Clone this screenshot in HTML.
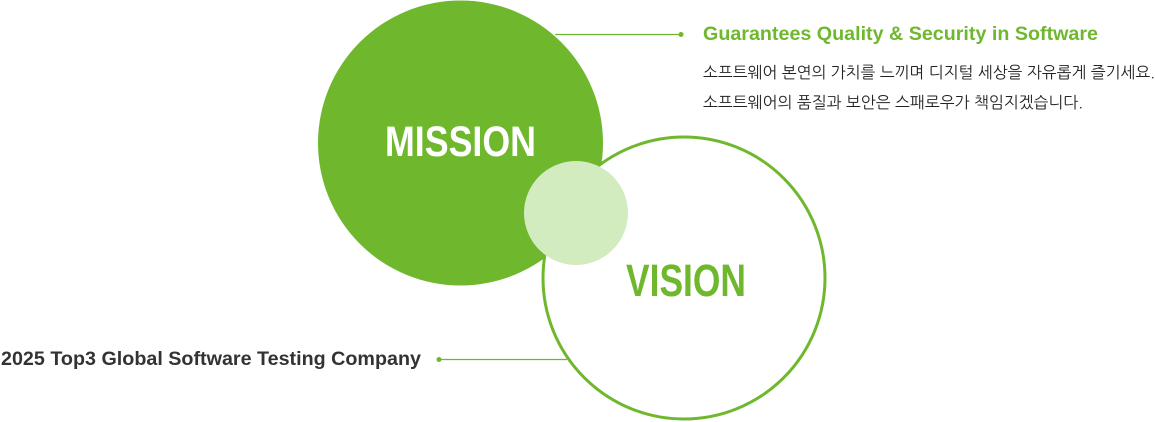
<!DOCTYPE html>
<html><head><meta charset="utf-8"><style>html,body{margin:0;padding:0;background:#fff;}svg{display:block}</style></head>
<body>
<svg width="1155" height="422" xmlns="http://www.w3.org/2000/svg">
<circle cx="460.5" cy="143" r="142.5" fill="#6fb82e"/>
<circle cx="684" cy="278" r="141" fill="#fff" stroke="#6fb82e" stroke-width="3"/>
<circle cx="576" cy="213" r="52" fill="#d3ecbf"/>
<line x1="555" y1="34.5" x2="680" y2="34.5" stroke="#6fb82e" stroke-width="1.2"/>
<circle cx="681" cy="34.5" r="2.5" fill="#6fb82e"/>
<line x1="440" y1="359.5" x2="567" y2="359.5" stroke="#6fb82e" stroke-width="1.2"/>
<circle cx="439" cy="359.5" r="2.5" fill="#6fb82e"/>
<text x="385" y="156" font-family="Liberation Sans, sans-serif" font-weight="bold" font-size="43" fill="#fff" textLength="151" lengthAdjust="spacingAndGlyphs">MISSION</text>
<text x="626" y="296" font-family="Liberation Sans, sans-serif" font-weight="bold" font-size="45" fill="#6fb82e" textLength="120" lengthAdjust="spacingAndGlyphs">VISION</text>
<text x="703" y="40" font-family="Liberation Sans, sans-serif" font-weight="bold" font-size="19" fill="#6fb82e" textLength="395" lengthAdjust="spacingAndGlyphs">Guarantees Quality &amp; Security in Software</text>
<text x="703" y="78" font-family="NanumGothic, Noto Sans CJK KR, sans-serif" font-size="16" fill="#222" textLength="452" lengthAdjust="spacingAndGlyphs">소프트웨어 본연의 가치를 느끼며 디지털 세상을 자유롭게 즐기세요.</text>
<text x="703" y="108" font-family="NanumGothic, Noto Sans CJK KR, sans-serif" font-size="16" fill="#222" textLength="380" lengthAdjust="spacingAndGlyphs">소프트웨어의 품질과 보안은 스패로우가 책임지겠습니다.</text>
<text x="1" y="365" font-family="Liberation Sans, sans-serif" font-weight="bold" font-size="19" fill="#333" textLength="420" lengthAdjust="spacingAndGlyphs">2025 Top3 Global Software Testing Company</text>
</svg>
</body></html>
